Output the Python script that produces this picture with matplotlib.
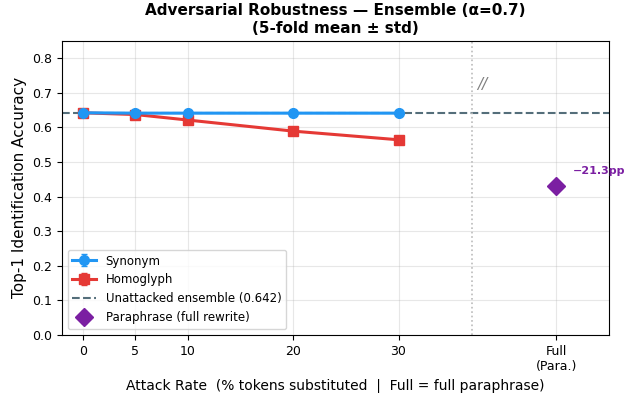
import numpy as np
import matplotlib
matplotlib.use("Agg")
import matplotlib.pyplot as plt

# data
rates = [0, 5, 10, 20, 30]
synonym = [0.642, 0.641, 0.641, 0.641, 0.641]
synonym_std = [0.002, 0.002, 0.002, 0.002, 0.002]
homoglyph = [0.642, 0.637, 0.621, 0.589, 0.564]
homoglyph_std = [0.002, 0.002, 0.003, 0.003, 0.003]
baseline = 0.642
para_x = 45
para_acc = 0.429
para_std = 0.004
tick_pos = [0, 5, 10, 20, 30, 45]
tick_labels = ["0", "5", "10", "20", "30", "Full\n(Para.)"]

fig = plt.figure(figsize=(6.31, 3.93), dpi=100)
ax = fig.add_axes([0.098, 0.148, 0.867, 0.748])

h_syn = ax.errorbar(rates, synonym, yerr=synonym_std, color="#2196F3", marker="o",
                    markersize=7, linewidth=2.2, capsize=2, label="Synonym", zorder=4)
h_hom = ax.errorbar(rates, homoglyph, yerr=homoglyph_std, color="#E53935", marker="s",
                    markersize=7, linewidth=2.2, capsize=2, label="Homoglyph", zorder=3)
h_base = ax.axhline(baseline, color="#546E7A", linestyle="--", linewidth=1.5,
                    label=f"Unattacked ensemble ({baseline:.3f})", zorder=2)
h_para = ax.errorbar([para_x], [para_acc], yerr=[para_std], color="#7B1FA2", marker="D",
                     markersize=9, linestyle="none", capsize=2,
                     label="Paraphrase (full rewrite)", zorder=5)

ax.axvline(37, color="#BBBBBB", linestyle=":", linewidth=1.2)
ax.text(37.5, 0.71, "//", color="gray", fontsize=11, style="italic")

ax.annotate(f"\u2212{(baseline - para_acc) * 100:.1f}pp", xy=(para_x, para_acc),
            xytext=(12, 9), textcoords="offset points", color="#7B1FA2",
            fontsize=8, fontweight="bold", annotation_clip=False)

ax.set_xlim(-2, 50)
ax.set_ylim(0, 0.85)
ax.set_xticks(tick_pos)
ax.set_xticklabels(tick_labels)
ax.set_yticks(np.arange(0, 0.81, 0.1))
ax.tick_params(labelsize=9)
ax.grid(True, alpha=0.3)
ax.set_xlabel("Attack Rate  (% tokens substituted  |  Full = full paraphrase)", fontsize=10)
ax.set_ylabel("Top-1 Identification Accuracy", fontsize=11)
ax.set_title("Adversarial Robustness \u2014 Ensemble (\u03b1=0.7)\n(5-fold mean \u00b1 std)",
             fontsize=11, fontweight="bold")
ax.legend(handles=[h_syn, h_hom, h_base, h_para], loc="lower left", fontsize=8.5)

fig.savefig("out.png", dpi=100)
